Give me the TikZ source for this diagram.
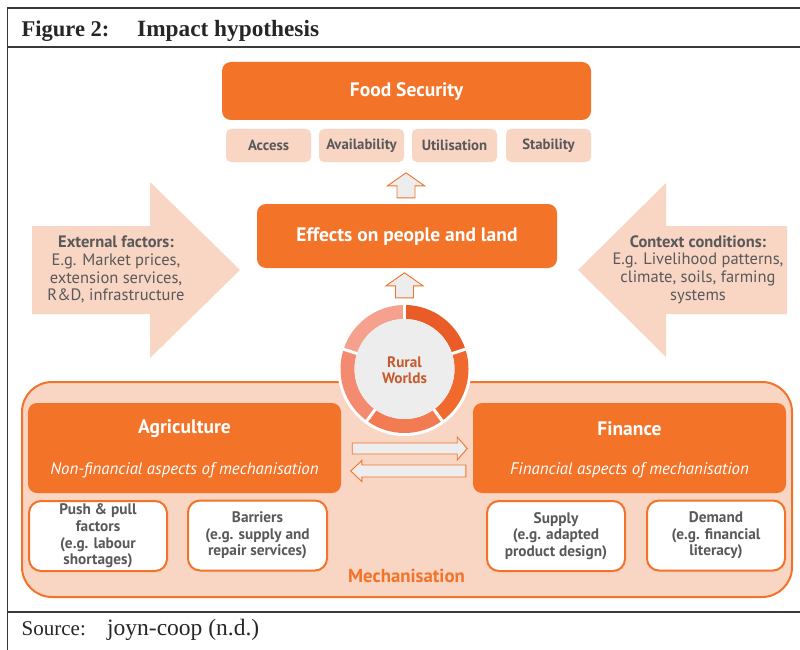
\documentclass[tikz,border=0pt]{standalone}
\usepackage{fontspec}
\setmainfont{PT Sans}
\newfontfamily\timesf{Liberation Serif}
\usetikzlibrary{calc}
\definecolor{org}{HTML}{F37329}
\definecolor{peach}{HTML}{F9D5C4}
\definecolor{txtgray}{HTML}{595959}
\definecolor{lgray}{HTML}{EDEDED}
\definecolor{rwtext}{HTML}{C65A2C}
\definecolor{segA}{HTML}{E95C28}
\definecolor{segB}{HTML}{F06A2D}
\definecolor{segC}{HTML}{F37B54}
\definecolor{segD}{HTML}{F48B70}
\definecolor{segE}{HTML}{F6A08E}
\definecolor{framec}{HTML}{3A3A3A}
\newcommand\myfs[2]{\fontsize{#1}{#2}\selectfont}
\newcommand\blkup[1]{\draw[blockarrow] #1 -- ++(9,0) -- ++(0,-12) -- ++(9.5,0) -- ++(-18.5,-13) -- ++(-18.5,13) -- ++(9.5,0) -- ++(0,12) -- cycle;}
\begin{document}
\begin{tikzpicture}[x=1pt,y=-1pt,
  obox/.style={fill=org, rounded corners=9pt, inner sep=0pt},
  pbox/.style={fill=peach, rounded corners=5pt, inner sep=0pt, text=txtgray, font=\myfs{14.8}{17}\bfseries},
  wbox/.style={fill=white, draw=org, line width=2pt, rounded corners=12pt, inner sep=0pt, text=txtgray, align=center, font=\myfs{15.3}{16.6}\bfseries},
  wtitle/.style={text=white, font=\myfs{19.5}{22}\bfseries, inner sep=0pt},
  wsub/.style={text=white, font=\myfs{16.8}{19}\itshape, inner sep=0pt},
  bigarrow/.style={fill=peach},
  arrtext/.style={text=txtgray, align=center, font=\myfs{16.5}{17.8}, inner sep=0pt},
  blockarrow/.style={fill=lgray, draw=org, line width=0.9pt, line join=miter},
  frameline/.style={draw=framec, line width=1.4pt},
  serif/.style={anchor=base west, inner sep=0pt, text=black!85}]
\useasboundingbox (0,0) rectangle (800,650);
\fill[white] (0,0) rectangle (800,650);
% frame
\draw[frameline] (800,8) -- (7.5,8) -- (7.5,650);
\draw[frameline] (7.5,47) -- (800,47);
\draw[frameline] (7.5,612) -- (800,612);
\node[serif, font=\timesf\bfseries\myfs{22.5}{24}] (figno) at (21.5,36.5) {Figure 2:};
\node[serif, font=\timesf\bfseries\myfs{23.3}{24}] (figtitle) at (137,36.5) {Impact hypothesis};
\node[serif, font=\timesf\myfs{21}{24}] (srclab) at (21.5,635) {Source:};
\node[serif, font=\timesf\myfs{23.5}{24}] (srctext) at (107,635) {joyn-coop (n.d.)};

% big side arrows
\fill[bigarrow] (32,226) -- (150,226) -- (150,182) -- (240,270) -- (150,358) -- (150,314) -- (32,314) -- cycle;
\node[arrtext] (ext) at (116,269.5) {\textbf{External factors:}\\E.g. Market prices,\\extension services,\\R\&D, infrastructure};
\fill[bigarrow] (787,226) -- (666,226) -- (666,183) -- (578,270) -- (666,357) -- (666,314) -- (787,314) -- cycle;
\node[arrtext] (ctx) at (698,269.5) {\textbf{Context conditions:}\\E.g. Livelihood patterns,\\climate, soils, farming\\systems};

% food security
\node[obox, minimum width=369pt, minimum height=58pt] (fs) at (406.5,91) {};
\node[wtitle] (fstext) at ($(fs)+(0,1)$) {Food Security};
\node[pbox, minimum width=85pt, minimum height=33pt] (access) at (268.5,145.5) {Access};
\node[pbox, minimum width=85pt, minimum height=33pt] (avail) at (361.5,145.5) {Availability};
\node[pbox, minimum width=85pt, minimum height=33pt] (util) at (454.5,145.5) {Utilisation};
\node[pbox, minimum width=85pt, minimum height=33pt] (stab) at (548.5,145.5) {Stability};

% effects
\node[obox, minimum width=300pt, minimum height=64pt] (eff) at (407,236) {};
\node[wtitle] (efftext) at ($(eff)+(0,1)$) {Effects on people and land};
\blkup{($(eff.north)+(-1,-6)$)}

% mechanisation
\node[fill=peach, draw=org, line width=2pt, rounded corners=30pt, minimum width=770pt, minimum height=215pt, inner sep=0pt] (mech) at (407,489.5) {};
\node[text=org, font=\myfs{18.8}{20}\bfseries, inner sep=0pt] (mechlab) at (406.5,576) {Mechanisation};

% agriculture / finance
\node[obox, minimum width=313pt, minimum height=90pt] (ag) at (184.5,448) {};
\node[wtitle] (agt) at (184.5,429) {Agriculture};
\node[wsub] (ags) at (184.5,470) {Non-financial aspects of mechanisation};
\node[obox, minimum width=313pt, minimum height=90pt] (fin) at (629.5,448) {};
\node[wtitle] (fint) at (629.5,429) {Finance};
\node[wsub] (fins) at (629.5,470) {Financial aspects of mechanisation};

% white boxes
\node[wbox, minimum width=138pt, minimum height=70pt] (push) at (98,536) {Push \& pull\\factors\\(e.g. labour\\shortages)};
\node[wbox, minimum width=139pt, minimum height=70pt] (barr) at (257.5,535.5) {Barriers\\(e.g. supply and\\repair services)};
\node[wbox, minimum width=138pt, minimum height=70pt] (supp) at (556,536) {Supply\\(e.g. adapted\\product design)};
\node[wbox, minimum width=138pt, minimum height=70pt] (dem) at (716,535.5) {Demand\\(e.g. financial\\literacy)};

% horizontal arrows
\coordinate (ra) at ($(ag.east)+(11,0.5)$);
\draw[blockarrow] (ra) ++(0,-5.5) -- ++(105,0) -- ++(0,-6) -- ++(10,11.5) -- ++(-10,11.5) -- ++(0,-6) -- ++(-105,0) -- cycle;
\coordinate (la) at ($(fin.west)+(-7,23)$);
\draw[blockarrow] (la) ++(0,-6) -- ++(-104,0) -- ++(0,-4.5) -- ++(-11,10.5) -- ++(11,10.5) -- ++(0,-4.5) -- ++(104,0) -- cycle;

% rural worlds
\node[circle, fill=white, minimum size=134pt, inner sep=0pt] (rw) at (404.5,369) {};
\begin{scope}[shift={(rw.center)}, yscale=-1]
  \fill[segA] (90:64) arc[start angle=90, end angle=18, radius=64] -- (18:50) arc[start angle=18, end angle=90, radius=50] -- cycle;
  \fill[segB] (18:64) arc[start angle=18, end angle=-54, radius=64] -- (-54:50) arc[start angle=-54, end angle=18, radius=50] -- cycle;
  \fill[segC] (-54:64) arc[start angle=-54, end angle=-126, radius=64] -- (-126:50) arc[start angle=-126, end angle=-54, radius=50] -- cycle;
  \fill[segD] (-126:64) arc[start angle=-126, end angle=-198, radius=64] -- (-198:50) arc[start angle=-198, end angle=-126, radius=50] -- cycle;
  \fill[segE] (162:64) arc[start angle=162, end angle=90, radius=64] -- (90:50) arc[start angle=90, end angle=162, radius=50] -- cycle;
  \foreach \a in {90,18,-54,-126,162} \draw[white, line width=3pt] (\a:46) -- (\a:66);
  \fill[lgray] (0,0) circle[radius=50];
\end{scope}
\node[text=rwtext, align=center, font=\myfs{15.2}{16.5}\bfseries, inner sep=0pt] (rwt) at ($(rw.center)+(0,1)$) {Rural\\Worlds};
\blkup{($(rw.north)+(0,-4)$)}
\end{tikzpicture}
\end{document}
